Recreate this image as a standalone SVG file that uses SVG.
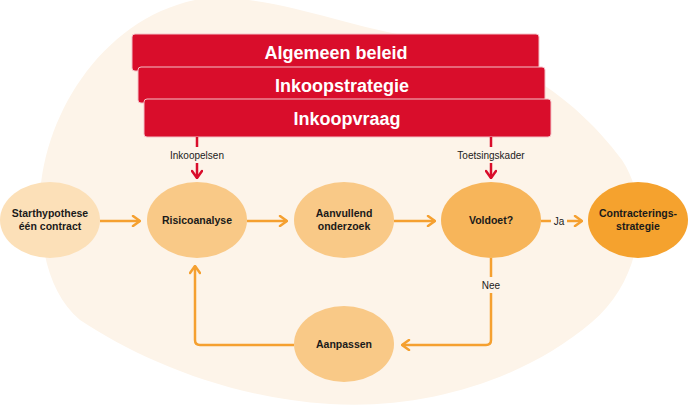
<svg xmlns="http://www.w3.org/2000/svg" width="688" height="405" viewBox="0 0 688 405">
<style>
.hdr{fill:#D90D2B;stroke:#F4C2C8;stroke-width:1}
.ht{font-family:"Liberation Sans",Arial,sans-serif;font-weight:bold;font-size:18px;fill:#fff;text-anchor:middle}
.nt{font-family:"Liberation Sans",Arial,sans-serif;font-weight:bold;font-size:10.5px;fill:#1a1a1a;text-anchor:middle}
.lt{font-family:"Liberation Sans",Arial,sans-serif;font-size:10px;fill:#1a1a1a;text-anchor:middle}
.co{fill:none;stroke:#F5A030;stroke-width:2.5;stroke-linejoin:round}
.cr{fill:none;stroke:#D90D2B;stroke-width:2.5}
</style>
<defs>
<marker id="ao" viewBox="0 0 10 12" refX="9" refY="6" markerWidth="10" markerHeight="12" markerUnits="userSpaceOnUse" orient="auto">
<path d="M2,1 L9,6 L2,11" fill="none" stroke="#F5A030" stroke-width="2.5" stroke-linecap="round" stroke-linejoin="round"/>
</marker>
<marker id="ar" viewBox="0 0 10 12" refX="9" refY="6" markerWidth="10" markerHeight="12" markerUnits="userSpaceOnUse" orient="auto">
<path d="M2,1 L9,6 L2,11" fill="none" stroke="#D90D2B" stroke-width="2.5" stroke-linecap="round" stroke-linejoin="round"/>
</marker>
</defs>
<path d="M40,205 C40,120 100,20 195,0 C265,-10 335,25 420,38 C520,52 585,110 622,160 C652,205 642,280 592,322 C522,382 420,410 330,404 C230,398 140,360 80,320 C50,295 40,250 40,205 Z" fill="#FDF4E9"/>
<g id="hdr-algemeen">
<rect class="hdr" x="132" y="34" width="407" height="37" rx="3"/>
<text class="ht" x="336" y="59">Algemeen beleid</text>
</g>
<g id="hdr-inkoopstrategie">
<rect class="hdr" x="138" y="67" width="407" height="36" rx="3"/>
<text class="ht" x="342" y="91.5">Inkoopstrategie</text>
</g>
<g id="hdr-inkoopvraag">
<rect class="hdr" x="144" y="99" width="407" height="38" rx="3"/>
<text class="ht" x="347" y="124.5">Inkoopvraag</text>
</g>
<g id="connectors">
<line class="cr" x1="197" y1="137" x2="197" y2="147"/>
<line class="cr" x1="197" y1="163" x2="197" y2="178" marker-end="url(#ar)"/>
<text class="lt" x="197" y="158.5">Inkoopelsen</text>
<line class="cr" x1="491" y1="137" x2="491" y2="147"/>
<line class="cr" x1="491" y1="163" x2="491" y2="178" marker-end="url(#ar)"/>
<text class="lt" x="491" y="158.5">Toetsingskader</text>
<line class="co" x1="100" y1="221" x2="140" y2="221" marker-end="url(#ao)"/>
<line class="co" x1="247" y1="221" x2="287" y2="221" marker-end="url(#ao)"/>
<line class="co" x1="394" y1="221" x2="435" y2="221" marker-end="url(#ao)"/>
<line class="co" x1="541" y1="221" x2="551" y2="221"/>
<text class="lt" x="559" y="224.5">Ja</text>
<line class="co" x1="567" y1="221" x2="582" y2="221" marker-end="url(#ao)"/>
<line class="co" x1="491" y1="258" x2="491" y2="277"/>
<text class="lt" x="491" y="288.5">Nee</text>
<path class="co" d="M491,293 L491,340 Q491,345 486,345 L402,345" marker-end="url(#ao)"/>
<path class="co" d="M294,345 L200,345 Q195,345 195,340 L195,266" marker-end="url(#ao)"/>
</g>
<g id="n-start">
<ellipse cx="50" cy="220" rx="50" ry="38" fill="#FCE0B8"/>
<text class="nt" x="50" y="216.5">Starthypothese</text>
<text class="nt" x="50" y="229.5">één contract</text>
</g>
<g id="n-risico">
<ellipse cx="197" cy="220" rx="50" ry="38" fill="#F9C987"/>
<text class="nt" x="197" y="224">Risicoanalyse</text>
</g>
<g id="n-aanvullend">
<ellipse cx="344" cy="220" rx="50" ry="38" fill="#F9C987"/>
<text class="nt" x="344" y="216.5">Aanvullend</text>
<text class="nt" x="344" y="229.5">onderzoek</text>
</g>
<g id="n-voldoet">
<ellipse cx="491" cy="220" rx="50" ry="38" fill="#F7B55A"/>
<text class="nt" x="491" y="224">Voldoet?</text>
</g>
<g id="n-contract">
<ellipse cx="638" cy="220" rx="50" ry="38" fill="#F5A22E"/>
<text class="nt" x="638" y="216.5">Contracterings-</text>
<text class="nt" x="638" y="229.5">strategie</text>
</g>
<g id="n-aanpassen">
<ellipse cx="344" cy="344" rx="50" ry="38" fill="#F9C987"/>
<text class="nt" x="344" y="348">Aanpassen</text>
</g>
</svg>
